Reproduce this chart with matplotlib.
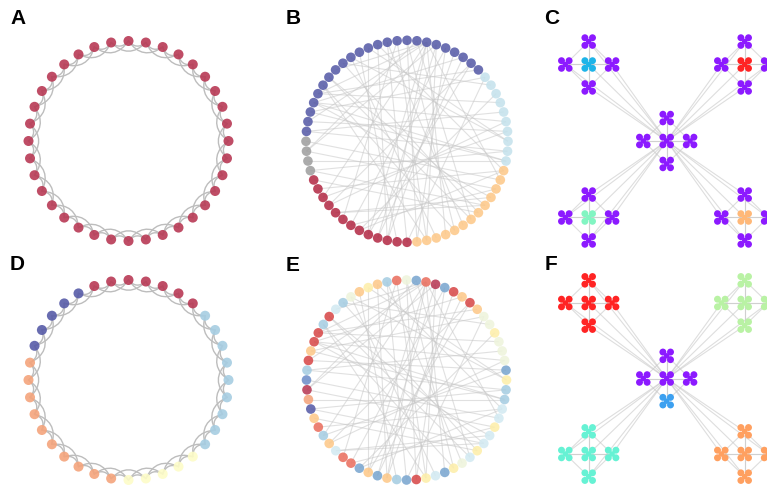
import numpy as np
import matplotlib.pyplot as plt
from matplotlib.patches import FancyArrowPatch
from matplotlib.collections import LineCollection
from matplotlib.transforms import offset_copy

W, H = 767, 490

# colour codes used by the panels
palette = {
    'C': '#b83a55', 'X': '#b42d48', 'R': '#d84a4a', 'O': '#ea7060', 'S': '#f4a47c',
    'L': '#fdc98a', 'Y': '#fdeeaa', 'W': '#fdfcc8', 'P': '#eef4dc', 'V': '#d3eaf2',
    'K': '#c5e2ec', 'B': '#a6cde2', 'M': '#7ba7d0', 'N': '#6f8fca', 'D': '#585ca8',
    'G': '#a0a0a0',
    'pu': '#8c1aff', 'cy': '#1eb4e8', 'rd': '#ff2424', 'mi': '#82f5c2', 'or': '#ffb878',
    'lg': '#b9f2a4', 'aq': '#66f2d4', 'o2': '#ffa060', 'bl': '#3ca0f0',
}

# ring lattice (panels A, D): 36 nodes, each linked to its 1st and 2nd neighbours
ring_A = 'C' * 36
ring_D = 'BBBBB' + 'CCCCCCC' + 'DDDDD' + 'SSSSSSSSSS' + 'WWWWW' + 'BBBB'
ring_steps = [1, 2]

# circular graph (panels B, E): 64 nodes, same edges, two colourings
circ_B = 'KKKKKKKK' + 'D' * 24 + 'GGGG' + 'X' * 13 + 'L' * 13 + 'KK'
circ_E = ('YMPPPYPP' 'LRLRMCOM' 'POBLYLPB' 'VRBRRLRB'
          'NCSDLOBL' 'VOOMLMLB' 'MRYVMYPV' 'YVVYVVBB')
circ_edges = [
    (14, 30), (14, 27), (14, 44), (14, 46), (14, 52), (14, 60), (14, 38), (14, 24),
    (13, 33), (13, 50), (28, 2), (28, 62), (28, 58), (28, 10), (27, 4), (27, 8),
    (30, 1), (31, 63), (31, 3), (32, 60), (37, 61), (38, 1), (40, 58), (40, 57),
    (41, 17), (44, 20), (44, 9), (46, 19), (46, 11), (48, 18), (48, 7), (49, 16),
    (49, 12), (51, 22), (53, 26), (55, 25), (57, 35), (59, 42), (61, 43), (63, 35),
    (20, 0), (18, 54), (23, 6), (23, 56), (25, 57), (26, 50), (10, 45), (12, 42),
    (16, 53), (7, 29), (9, 39), (15, 55), (15, 33), (29, 62), (33, 59), (21, 47),
    (39, 2), (43, 5), (22, 0), (36, 56), (45, 13), (17, 50), (19, 61), (34, 62),
]

# hub graph (panels C, F): centre group + 4 corner groups, each hub + up/down/left/right
groups = [(0, 0), (-1, 1), (1, 1), (-1, -1), (1, -1)]
members = [(0, 0), (0, 1), (0, -1), (-1, 0), (1, 0)]
hub_C = ['pu'] * 5 + ['cy', 'pu', 'pu', 'pu', 'pu'] + ['rd', 'pu', 'pu', 'pu', 'pu'] \
    + ['mi', 'pu', 'pu', 'pu', 'pu'] + ['or', 'pu', 'pu', 'pu', 'pu']
hub_F = ['pu', 'pu', 'bl', 'pu', 'pu'] + ['rd'] * 5 + ['lg'] * 5 + ['aq'] * 5 + ['o2'] * 5

fig = plt.figure(figsize=(W / 100, H / 100), dpi=100)


def panel_ax(cx, cy, sx, sy, half=125):
    ax = fig.add_axes([(cx - half) / W, 1 - (cy + half) / H, 2 * half / W, 2 * half / H])
    ax.set_xlim(-half / sx, half / sx)
    ax.set_ylim(-half / sy, half / sy)
    ax.axis('off')
    return ax


def draw_ring(ax, codes):
    n = len(codes)
    ang = np.arange(n) * 2 * np.pi / n
    x, y = np.cos(ang), np.sin(ang)
    for step in ring_steps:
        for i in range(n):
            j = (i + step) % n
            ax.add_patch(FancyArrowPatch((x[i], y[i]), (x[j], y[j]),
                                         connectionstyle='arc3,rad=-0.5', arrowstyle='-',
                                         color='#bdbdbd', lw=1.0, shrinkA=0, shrinkB=0,
                                         zorder=1))
    ax.scatter(x, y, s=52, c=[palette[k] for k in codes], alpha=0.9,
               linewidths=0, zorder=2)


def draw_circle(ax, codes):
    n = len(codes)
    ang = np.arange(n) * 2 * np.pi / n
    x, y = np.cos(ang), np.sin(ang)
    segs = [[(x[i], y[i]), (x[j], y[j])] for i, j in circ_edges]
    ax.add_collection(LineCollection(segs, colors='#c8c8c8', linewidths=0.8,
                                     alpha=0.55, zorder=1))
    ax.scatter(x, y, s=48, c=[palette[k] for k in codes], alpha=0.88,
               linewidths=0, zorder=2)


def draw_hubs(ax, codes, gap=0.3):
    pos = np.array([(gx + mx * gap, gy + my * gap) for gx, gy in groups for mx, my in members])
    segs = []
    for g in range(len(groups)):
        ids = range(g * 5, g * 5 + 5)
        for a in ids:
            for b in ids:
                if a < b:
                    segs.append([pos[a], pos[b]])
        if g > 0:
            for a in ids:
                segs.append([pos[a], pos[0]])
    ax.add_collection(LineCollection(segs, colors='#c8c8c8', linewidths=0.8,
                                     alpha=0.6, zorder=1))
    cols = [palette[k] for k in codes]
    # each node drawn as a four-lobed cross
    ax.scatter(pos[:, 0], pos[:, 1], s=16, c=cols, linewidths=0, zorder=2)
    for dx in (-3.8, 3.8):
        for dy in (-3.8, 3.8):
            tr = offset_copy(ax.transData, fig=fig, x=dx, y=dy, units='dots')
            ax.scatter(pos[:, 0], pos[:, 1], s=25, c=cols, linewidths=0,
                       transform=tr, zorder=2)


draw_ring(panel_ax(128.5, 141, 100, 100), ring_A)
draw_circle(panel_ax(407, 141.3, 101, 101), circ_B)
draw_hubs(panel_ax(666.7, 141, 78, 76.5), hub_C)
draw_ring(panel_ax(128.5, 380, 100, 100), ring_D)
draw_circle(panel_ax(406.5, 380, 100, 100), circ_E)
draw_hubs(panel_ax(666.7, 378.5, 78, 75.5), hub_F)

for lab, lx, ly in [('A', 10, 23.5), ('B', 286, 23.5), ('C', 544, 24),
                    ('D', 10, 270.5), ('E', 286, 271), ('F', 545, 270)]:
    fig.text(lx / W, 1 - ly / H, lab, fontsize=15, fontweight='bold',
             family=['Liberation Sans', 'DejaVu Sans'], ha='left', va='baseline')

fig.savefig('out.png', dpi=100)
